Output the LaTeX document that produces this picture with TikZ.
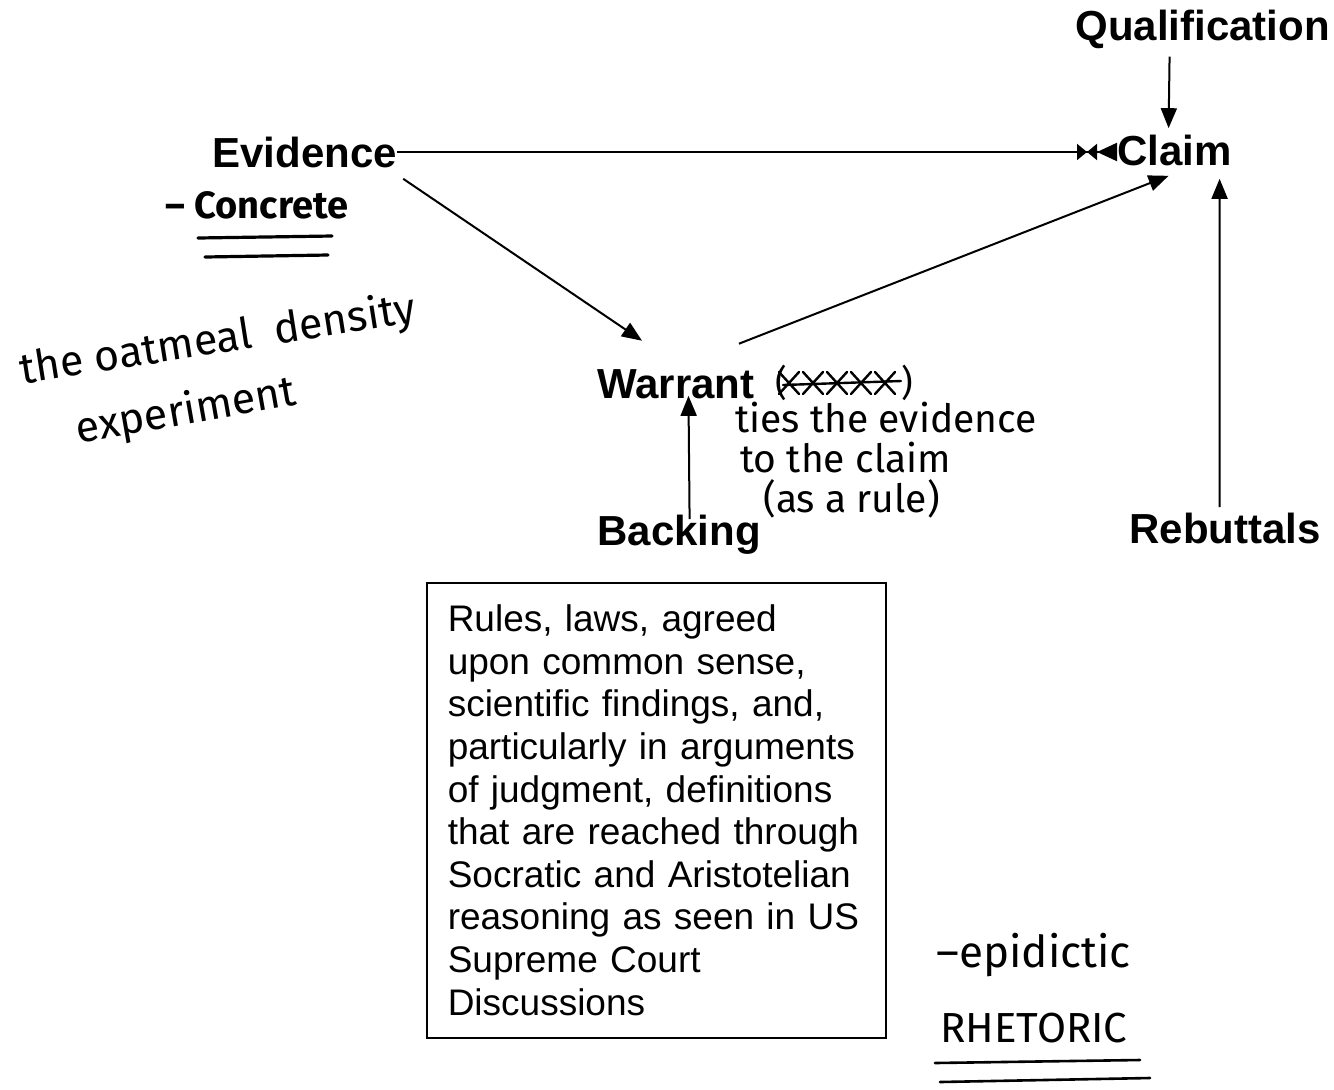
\documentclass[tikz,border=0pt]{standalone}
\usepackage{fontspec}
\setmainfont{Liberation Sans}
\newfontfamily\handfont{Fira Sans}
\usetikzlibrary{arrows.meta, calc}

\begin{document}
\begin{tikzpicture}[
        x=0.5pt, y=-0.5pt,
        label/.style={inner sep=0pt, anchor=base west, font=\bfseries\fontsize{21}{25}\selectfont},
        link/.style={line width=1pt, -{Triangle[length=10pt, width=8pt]}},
        hand/.style={inner sep=0pt, font=\handfont\fontsize{18}{18}\selectfont},
        handline/.style={line width=1.3pt, line cap=round}
    ]
    \useasboundingbox (0,0) rectangle (1334,1089);

    % Begriffe des Schemas
    \node[label] (qualification) at (1075,40) {Qualification};
    \node[label] (claim) at (1117,165) {Claim};
    \node[label] (evidence) at (212,167) {Evidence};
    \node[label] (warrant) at (597,398) {Warrant};
    \node[label] (backing) at (597,545) {Backing};
    \node[label] (rebuttals) at (1129,543) {Rebuttals};

    % Kasten unter Backing
    \node[draw, line width=0.75pt, anchor=north west,
        minimum width=229.5pt, minimum height=227.5pt,
        text width=208.5pt, inner xsep=10.5pt, inner ysep=0pt, align=left,
        font=\fontsize{18.5}{21.3}\selectfont] (rules) at (426,582)
        {Rules, laws, agreed\\
         upon common sense,\\
         scientific findings, and,\\
         particularly in arguments\\
         of judgment, definitions\\
         that are reached through\\
         Socratic and Aristotelian\\
         reasoning as seen in US\\
         Supreme Court\\
         Discussions};

    % Pfeile
    \draw[line width=1pt, -{Triangle[length=5pt, width=8pt] Triangle[reversed, length=5pt, width=8pt] Triangle[reversed, length=10pt, width=9pt]}]
        (evidence.east) -- (evidence.east -| claim.west);
    \draw[link] ([shift={(-33,8)}]qualification.south) -- ([shift={(-6,-6)}]claim.north);
    \draw[link] ([shift={(6,11)}]evidence.south east) -- ([shift={(45,-28)}]warrant.north west);
    \draw[link] ([shift={(-16,-25)}]warrant.north east) -- ([shift={(-6,10)}]claim.south);
    \draw[link] ([shift={(10.5,5)}]backing.north) -- ([shift={(12.5,-3)}]warrant.south);
    \draw[link] ([shift={(-5.5,-5)}]rebuttals.north) -- ([shift={(45,13)}]claim.south);

    % Handschriftliche Notizen
    \node[hand, font=\handfont\bfseries\fontsize{19}{19}\selectfont] (concrete) at (257,205) {– Concrete};
    \draw[handline, line width=1.6pt] (198,238) -- (332,236);
    \draw[handline, line width=1.6pt] (205,257) -- (328,255);

    \node[hand, rotate=9, font=\handfont\fontsize{21.5}{21.5}\selectfont] (oatmeal) at (218,341) {the oatmeal\ \ density};
    \node[hand, rotate=10, font=\handfont\fontsize{21.5}{21.5}\selectfont] (experiment) at (186,412) {experiment};

    \node[hand, anchor=west] (crossed) at (775,383) {(\hspace{57pt})};
    \foreach \x in {14,38,62,86,110} {
        \draw[handline, line width=1.2pt] ([shift={(\x-10,-11)}]crossed.west) -- ([shift={(\x+10,11)}]crossed.west);
        \draw[handline, line width=1.2pt] ([shift={(\x-10,11)}]crossed.west) -- ([shift={(\x+10,-11)}]crossed.west);
    }
    \draw[handline, line width=1.2pt] ([shift={(8,2)}]crossed.west) -- ([shift={(126,-2)}]crossed.west);

    \node[hand, anchor=north west, align=left, font=\handfont\fontsize{19.5}{20}\selectfont] (ties) at (735,402)
        {ties the evidence\\
         \hspace*{2.5pt}to the claim\\
         \hspace*{14pt}(as a rule)};

    \node[hand, anchor=west, font=\handfont\fontsize{22}{22}\selectfont] (epidictic) at (936,955) {–epidictic};
    \node[hand, anchor=west, font=\handfont\fontsize{21}{21}\selectfont] (rhetoric) at (940,1028) {RHETORIC};
    \draw[handline] (935,1063) -- (1140,1060);
    \draw[handline] (940,1082) -- (1150,1078);

\end{tikzpicture}
\end{document}
